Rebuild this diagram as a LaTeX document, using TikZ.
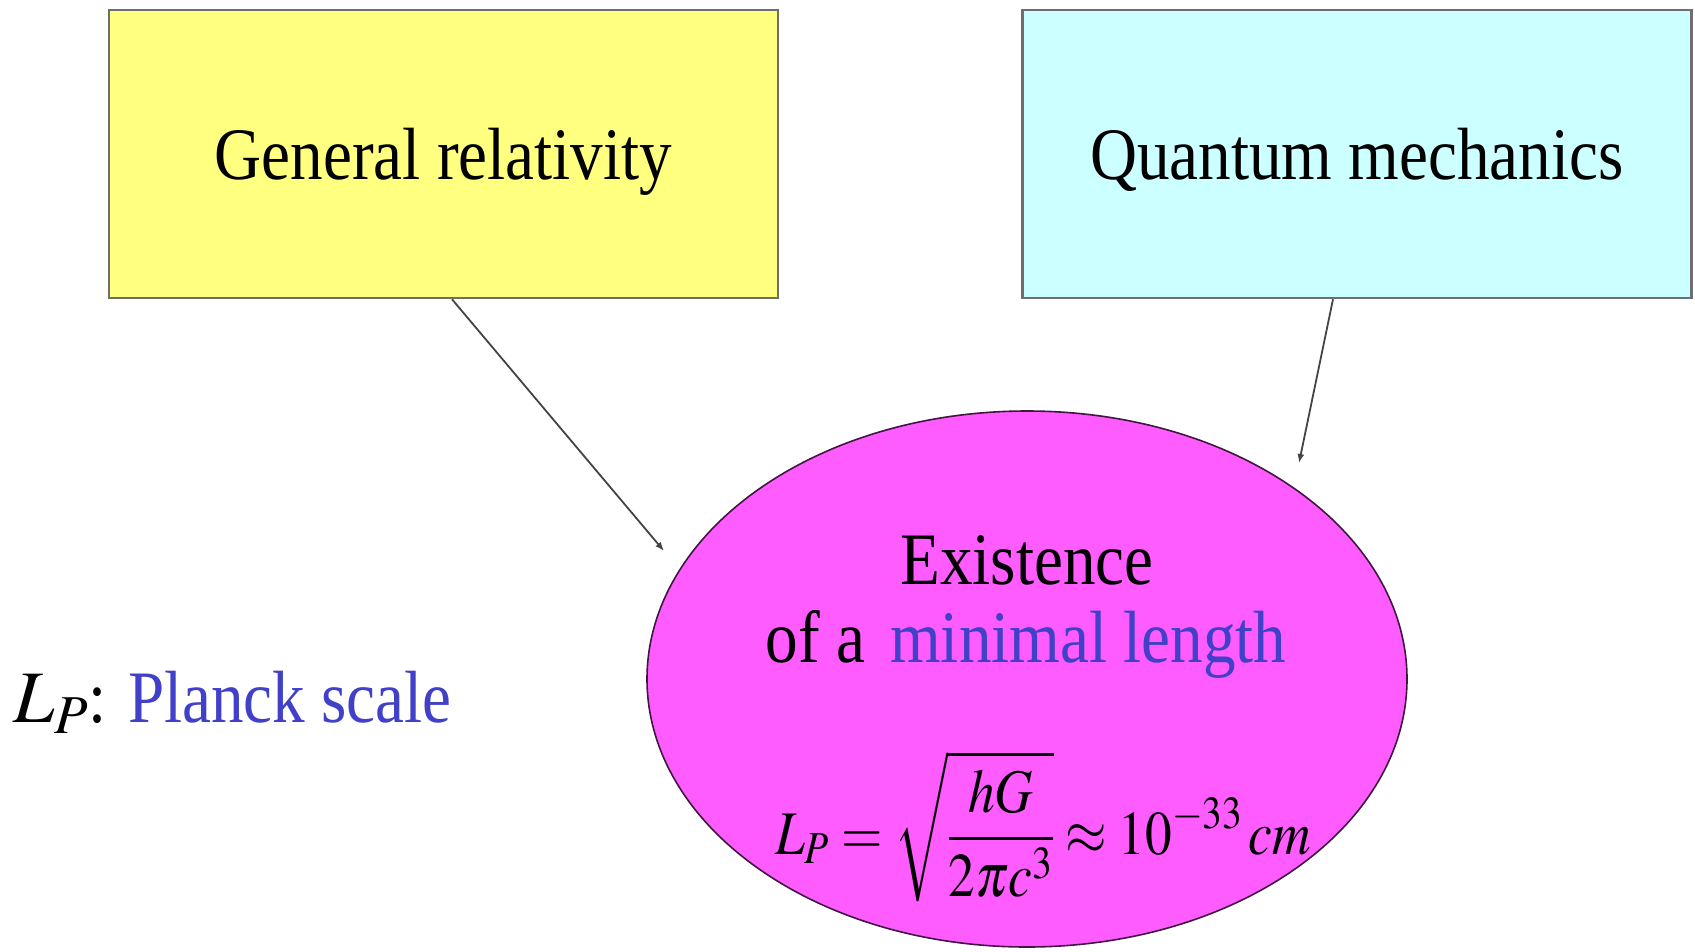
\documentclass[tikz,border=0pt]{standalone}
\usepackage{graphicx}
\usepackage{mathptmx}
\usepackage{fontspec}
\setmainfont[FakeStretch=0.88]{Liberation Serif}
\usetikzlibrary{arrows.meta,shapes.geometric}
\definecolor{PYellow}{HTML}{FFFF80}
\definecolor{PCyan}{HTML}{CCFFFF}
\definecolor{PMagenta}{HTML}{FF5CFF}
\definecolor{PBlue}{HTML}{4040C8}
\definecolor{PGray}{HTML}{6E6E6E}
\definecolor{PLine}{HTML}{444444}
\newcommand{\lp}{\ensuremath{L_P}}

\begin{document}
\begin{tikzpicture}[
  x=1pt,y=-1pt,
  box/.style={draw=PGray,line width=2.5pt,minimum width=669pt,minimum height=288pt,
    inner sep=0pt,text depth=0pt,font=\fontsize{74}{84}\selectfont},
  oval/.style={ellipse,draw=black!75!PMagenta,line width=1.6pt,fill=PMagenta,
    minimum width=760pt,minimum height=536pt,inner sep=0pt},
  txt/.style={anchor=base,inner sep=0pt,font=\fontsize{74}{84}\selectfont},
  a/.style={-{Latex[length=9pt,width=7pt]},line width=1.8pt,color=PLine}
]
  \useasboundingbox (0,0) rectangle (1695,951);
  \node[box,fill=PYellow] (gr) at (443.5,154) {General relativity};
  \node[box,fill=PCyan] (qm) at (1357,154) {Quantum mechanics};
  \node[oval] (minlen) at (1027,679) {};
  \node[txt] (exist) at (1027,584) {Existence};
  \node[txt] (ofa) at (1026,662) {of a\hspace{0.12em} \textcolor{PBlue}{minimal length}};
  \node[txt,font=\fontsize{62}{70}\selectfont] (formula) at (1043,854)
    {\scalebox{0.86}[1]{$\displaystyle L_P = \sqrt{\frac{hG}{2\pi c^3}} \approx 10^{-33}\,cm$}};
  \node[txt,anchor=base west] (planck) at (13,722) {\lp: \textcolor{PBlue}{Planck scale}};
  \coordinate (grtip) at (664,551);
  \coordinate (qmtip) at (1299,463);
  \draw[a] ([xshift=8.5pt]gr.south) -- (grtip);
  \draw[a] ([xshift=-24pt]qm.south) -- (qmtip);
\end{tikzpicture}
\end{document}
